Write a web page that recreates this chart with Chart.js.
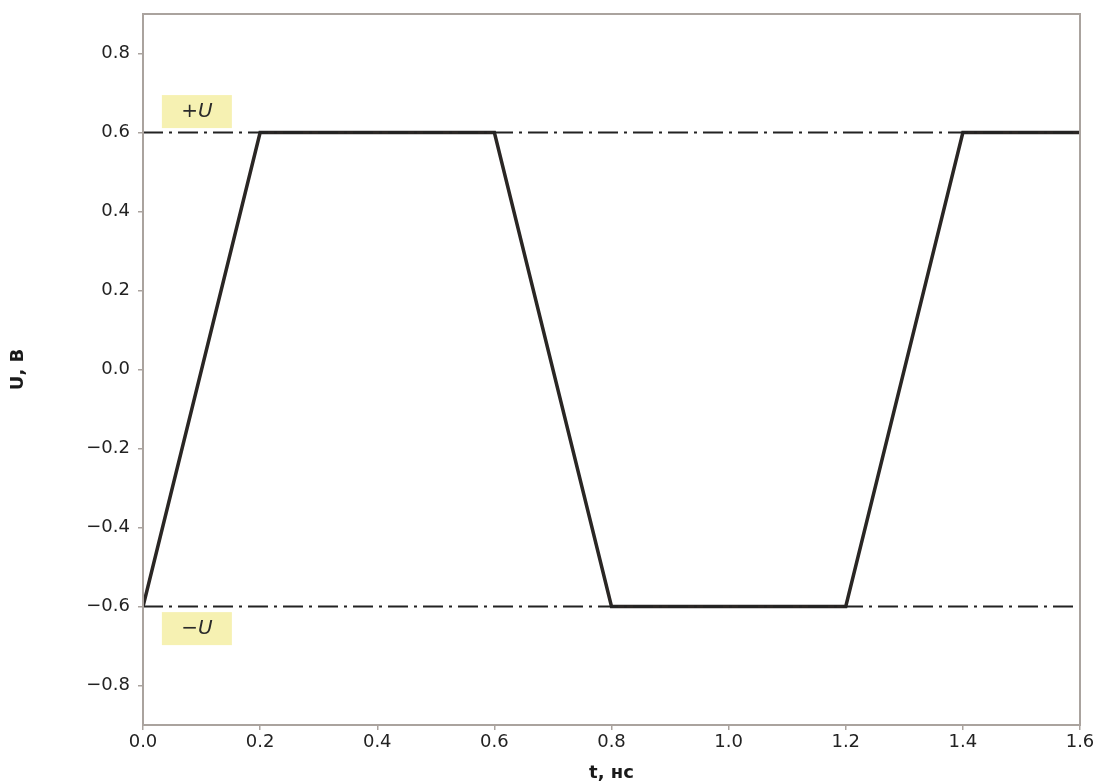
<!DOCTYPE html>
<html>
<head>
<meta charset="utf-8">
<script src="https://cdn.jsdelivr.net/npm/chart.js@4/dist/chart.umd.min.js"></script>
<style>
html,body{margin:0;padding:0;background:#fff;}
#wrap{width:1107px;height:782px;}
</style>
</head>
<body>
<div id="wrap"><canvas id="c" width="1107" height="782"></canvas></div>
<script>
const timeNs = [0.0, 0.2, 0.6, 0.8, 1.2, 1.4, 1.6];
const voltage = [-0.6, 0.6, 0.6, -0.6, -0.6, 0.6, 0.6];
const levelPlus = 0.6;
const levelMinus = -0.6;
const xTicks = [0.0, 0.2, 0.4, 0.6, 0.8, 1.0, 1.2, 1.4, 1.6];
const yTicks = [-0.8, -0.6, -0.4, -0.2, 0.0, 0.2, 0.4, 0.6, 0.8];
const annotations = [
  {text: '+U', x: 0.092, y: 0.653},
  {text: '\u2212U', x: 0.092, y: -0.656}
];

const fmt = v => { const s = Math.abs(v).toFixed(1); return (v < -1e-9 ? '\u2212' : '') + s; };
const FONT = "'DejaVu Sans', sans-serif";
const AXC = '#aaa39e';

const framePlugin = {
  id: 'frame',
  afterDatasetsDraw(chart) {
    const {ctx, chartArea: a, scales} = chart;
    ctx.save();
    ctx.strokeStyle = AXC;
    ctx.lineWidth = 2;
    ctx.strokeRect(a.left, a.top, a.right - a.left, a.bottom - a.top);
    ctx.font = "italic 20px " + FONT;
    ctx.textAlign = 'center';
    ctx.textBaseline = 'middle';
    annotations.forEach(an => {
      const px = scales.x.getPixelForValue(an.x);
      const py = scales.y.getPixelForValue(an.y);
      const w = 70, h = 33;
      ctx.fillStyle = 'rgba(245,240,170,0.9)';
      ctx.fillRect(px - w/2, py - h/2, w, h);
      ctx.fillStyle = '#2a2a2a';
      ctx.fillText(an.text, px, py);
    });
    ctx.restore();
  }
};

new Chart(document.getElementById('c'), {
  type: 'line',
  data: {
    datasets: [
      {
        data: [{x: xTicks[0], y: levelPlus}, {x: xTicks[xTicks.length-1], y: levelPlus}],
        borderColor: '#222', borderWidth: 2.2, borderDash: [20, 6, 3, 6], pointRadius: 0
      },
      {
        data: [{x: xTicks[0], y: levelMinus}, {x: xTicks[xTicks.length-1], y: levelMinus}],
        borderColor: '#222', borderWidth: 2.2, borderDash: [20, 6, 3, 6], pointRadius: 0
      },
      {
        data: timeNs.map((t, i) => ({x: t, y: voltage[i]})),
        borderColor: '#2a2624', borderWidth: 3.5, pointRadius: 0, tension: 0
      }
    ]
  },
  options: {
    responsive: false,
    animation: false,
    events: [],
    layout: {padding: {left: 0, top: 14, right: 27, bottom: 0}},
    plugins: {legend: {display: false}, tooltip: {enabled: false}},
    scales: {
      x: {
        type: 'linear', min: 0, max: 1.6,
        afterBuildTicks: s => { s.ticks = xTicks.map(v => ({value: v})); },
        afterFit: s => { s.height = 57; s.paddingLeft = 0; s.paddingRight = 0; },
        grid: {display: true, drawOnChartArea: false, drawTicks: true, tickLength: 5, color: AXC, lineWidth: 1.5},
        border: {display: true, color: AXC, width: 2},
        ticks: {callback: v => fmt(v), color: '#222', font: {family: FONT, size: 18}, padding: 2, maxRotation: 0},
        title: {display: true, text: 't, нс', color: '#1a1a1a', font: {family: FONT, size: 18, weight: 'bold'}, padding: {top: 0, bottom: -2}}
      },
      y: {
        type: 'linear', min: -0.9, max: 0.9,
        afterBuildTicks: s => { s.ticks = yTicks.map(v => ({value: v})); },
        afterFit: s => { s.width = 143; s.paddingTop = 0; s.paddingBottom = 0; },
        grid: {display: true, drawOnChartArea: false, drawTicks: true, tickLength: 5, color: AXC, lineWidth: 1.5},
        border: {display: true, color: AXC, width: 2},
        ticks: {callback: v => fmt(v), color: '#222', font: {family: FONT, size: 18}, padding: 8},
        title: {display: true, text: 'U, В', color: '#1a1a1a', font: {family: FONT, size: 18, weight: 'bold'}, padding: {top: 8, bottom: 0}}
      }
    }
  },
  plugins: [framePlugin]
});
</script>
</body>
</html>
